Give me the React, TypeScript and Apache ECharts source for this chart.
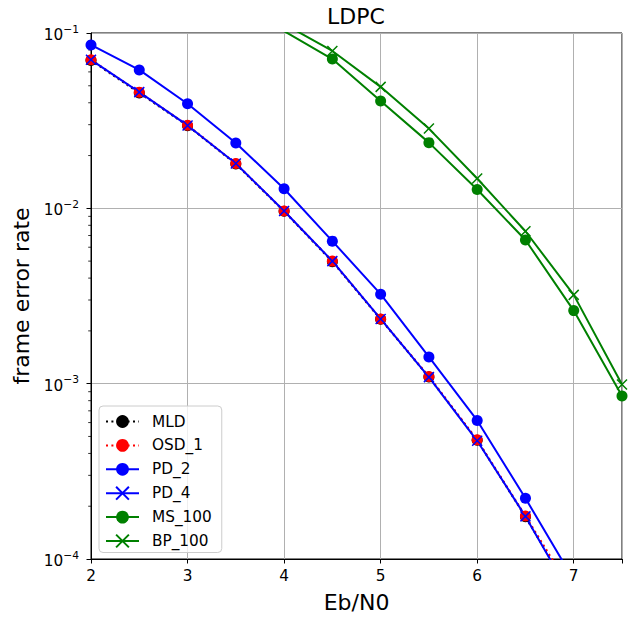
import React, { useEffect, useRef } from "react";
import * as echarts from "echarts";

const xValues = [2, 2.5, 3, 3.5, 4, 4.5, 5, 5.5, 6, 6.5, 7];
const xValuesBP = [4, 4.5, 5, 5.5, 6, 6.5, 7, 7.5];

const mld = [0.0698, 0.0455, 0.0296, 0.0179, 0.00962, 0.00496, 0.00233, 0.00109, 0.000476, 0.000174, 0.00006];
const osd1 = [0.0703, 0.046, 0.0298, 0.018, 0.00966, 0.005, 0.00234, 0.0011, 0.000478, 0.000176, 0.000063];
const pd2 = [0.0855, 0.0616, 0.0395, 0.0236, 0.01294, 0.0065, 0.00324, 0.00142, 0.000617, 0.000222, 0.000076];
const pd4 = [0.0703, 0.046, 0.0297, 0.018, 0.00966, 0.005, 0.00234, 0.00109, 0.000472, 0.000175, 0.000058];
const ms100 = [0.1025, 0.071, 0.041, 0.0237, 0.0128, 0.0066, 0.00261, 0.00085];
const bp100 = [0.1125, 0.079, 0.0493, 0.0285, 0.0148, 0.0074, 0.00321, 0.00099];

const decades = [1e-4, 1e-3, 1e-2];
const mantissas = [2, 3, 4, 5, 6, 7, 8, 9];

const FONT = "DejaVu Sans";
const CROSS = "path://M0 0L10 10M10 0L0 10";

function pairs(xs: number[], ys: number[]) {
  return xs.map((x, i) => [x, ys[i]]);
}

export default function App() {
  const ref = useRef<HTMLDivElement>(null);
  useEffect(() => {
    if (!ref.current) return;
    const chart = echarts.init(ref.current, null, { renderer: "svg" });
    const minorTicks: number[][] = [];
    decades.forEach((d) => mantissas.forEach((m) => minorTicks.push([2, m * d])));

    const lineSeries = (
      name: string,
      xs: number[],
      ys: number[],
      color: string,
      symbol: string,
      dotted: boolean
    ) => ({
      name,
      type: "line",
      data: pairs(xs, ys),
      color,
      symbol,
      symbolSize: symbol === "circle" ? 11 : 10,
      showSymbol: true,
      clip: true,
      lineStyle: { color, width: 2, type: dotted ? [2, 3.4] : "solid" },
      itemStyle: {
        color,
        borderColor: color,
        borderWidth: symbol === "circle" ? 0 : 1.5,
        opacity: 1,
      },
      emphasis: { disabled: true },
    });

    chart.setOption({
      animation: false,
      textStyle: { fontFamily: FONT },
      title: {
        text: "LDPC",
        left: 356,
        top: 5,
        textAlign: "center",
        padding: 0,
        textStyle: { fontFamily: FONT, fontSize: 22, fontWeight: "normal", color: "#000" },
      },
      grid: {
        left: 91,
        right: 16,
        top: 33,
        bottom: 57,
        show: true,
        borderColor: "#000",
        borderWidth: 1,
        backgroundColor: "transparent",
      },
      legend: {
        data: ["MLD", "OSD_1", "PD_2", "PD_4", "MS_100", "BP_100"],
        orient: "vertical",
        left: 99,
        top: 406,
        itemWidth: 33,
        itemHeight: 16,
        itemGap: 8.9,
        padding: [8, 10, 4, 6],
        backgroundColor: "rgba(255,255,255,0.8)",
        borderColor: "#cccccc",
        borderWidth: 1,
        borderRadius: 4,
        textStyle: { fontFamily: FONT, fontSize: 15.3, color: "#000", padding: [0, 0, 0, 8] },
      },
      xAxis: {
        type: "value",
        min: 2,
        max: 7.5,
        interval: 1,
        name: "Eb/N0",
        nameLocation: "middle",
        nameGap: 32,
        nameTextStyle: { fontFamily: FONT, fontSize: 22, color: "#000" },
        axisLine: { show: true, lineStyle: { color: "#000", width: 1 } },
        axisTick: { show: true, length: 4.5, lineStyle: { color: "#000", width: 1 } },
        axisLabel: {
          fontFamily: FONT,
          fontSize: 15.3,
          color: "#000",
          margin: 9,
          formatter: (v: number) => (Number.isInteger(v) ? String(v) : ""),
        },
        splitLine: { show: true, lineStyle: { color: "#b0b0b0", width: 1 } },
      },
      yAxis: {
        type: "log",
        logBase: 10,
        min: 1e-4,
        max: 1e-1,
        name: "frame error rate",
        nameLocation: "middle",
        nameGap: 57,
        nameTextStyle: { fontFamily: FONT, fontSize: 22, color: "#000" },
        axisLine: { show: true, lineStyle: { color: "#000", width: 1 } },
        axisTick: { show: true, length: 4.5, lineStyle: { color: "#000", width: 1 } },
        axisLabel: {
          color: "#000",
          margin: 12,
          formatter: (v: number) => {
            const e = Math.round(Math.log10(v));
            return `{b|10}{s|\u2212${-e}}`;
          },
          rich: {
            b: { fontFamily: FONT, fontSize: 15.3, color: "#000", lineHeight: 19, verticalAlign: "bottom" },
            s: { fontFamily: FONT, fontSize: 10.7, color: "#000", lineHeight: 11, verticalAlign: "top" },
          },
        },
        splitLine: { show: true, lineStyle: { color: "#b0b0b0", width: 1 } },
      },
      series: [
        lineSeries("MLD", xValues, mld, "#000000", "circle", true),
        lineSeries("OSD_1", xValues, osd1, "#ff0000", "circle", true),
        lineSeries("PD_2", xValues, pd2, "#0000ff", "circle", false),
        lineSeries("PD_4", xValues, pd4, "#0000ff", CROSS, false),
        lineSeries("MS_100", xValuesBP, ms100, "#008000", "circle", false),
        lineSeries("BP_100", xValuesBP, bp100, "#008000", CROSS, false),
        {
          name: "minorTicks",
          type: "custom",
          silent: true,
          clip: false,
          data: minorTicks,
          encode: { x: 0, y: 1 },
          renderItem: (params: any, api: any) => {
            const p = api.coord([api.value(0), api.value(1)]);
            return {
              type: "line",
              shape: { x1: p[0] - 2.8, y1: p[1], x2: p[0], y2: p[1] },
              style: { stroke: "#000", lineWidth: 0.8 },
            };
          },
        },
      ],
    });
    return () => chart.dispose();
  }, []);
  return (
    <div
      ref={ref}
      style={{ position: "fixed", left: 0, top: 0, width: 638, height: 618, background: "#fff" }}
    />
  );
}
